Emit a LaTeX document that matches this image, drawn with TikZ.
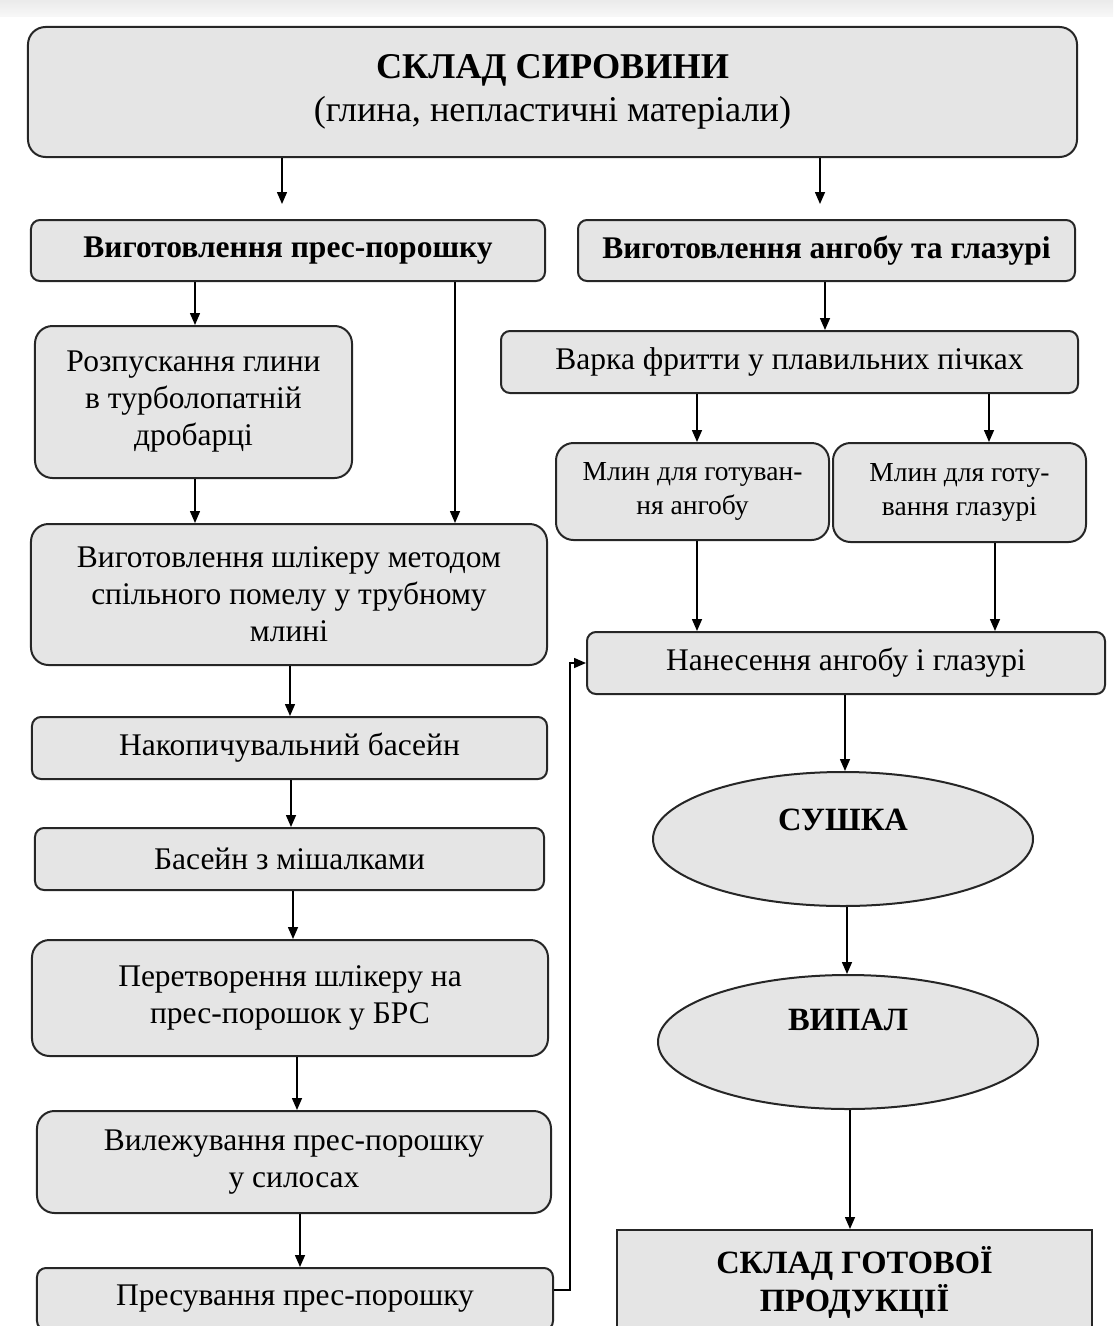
\documentclass[tikz,border=0pt]{standalone}
\usepackage{fontspec}
\setmainfont{Liberation Serif}
\usetikzlibrary{shapes.geometric,arrows.meta}

\begin{document}
\begin{tikzpicture}[x=0.4pt,y=-0.4pt,
  stage/.style={draw=black!85,line width=0.8pt,fill=black!10,rounded corners=3.6pt,
    align=center,inner sep=1pt,font=\fontsize{12.6}{14.8}\selectfont},
  tall/.style={stage,rounded corners=7pt},
  mill/.style={tall,font=\fontsize{11}{13.6}\selectfont},
  oval/.style={ellipse,draw=black!85,line width=0.8pt,fill=black!10,
    minimum width=152pt,minimum height=53.6pt},
  caps/.style={font=\fontsize{13}{15.2}\selectfont\bfseries,align=center},
  flow/.style={-{Triangle[length=4.8pt,width=4pt]},line width=0.6pt}]
  \useasboundingbox (0,0) rectangle (1113,1326);
  \clip (0,0) rectangle (1113,1326);
  \shade[top color=black!8,bottom color=black!3] (0,0) rectangle (1113,16);

  % left column
  \node[tall,minimum width=419.6pt,minimum height=52pt,font=\fontsize{14.5}{17.2}\selectfont]
    (store) at (552.5,92) {\textbf{СКЛАД СИРОВИНИ}\\(глина, непластичні матеріали)};
  \node[stage,minimum width=205.6pt,minimum height=24.4pt] (powder) at (288,250.5)
    {\textbf{Виготовлення прес-порошку}};
  \node[tall,minimum width=126.8pt,minimum height=60.8pt] (dissolve) at (193.5,402)
    {Розпускання глини\\в турболопатній\\дробарці};
  \node[tall,minimum width=206.4pt,minimum height=56.4pt] (slip) at (289,594.5)
    {Виготовлення шлікеру методом\\спільного помелу у трубному\\млині};
  \node[stage,minimum width=206pt,minimum height=24.8pt] (tank) at (289.5,748)
    {Накопичувальний басейн};
  \node[stage,minimum width=203.6pt,minimum height=24.8pt] (mixer) at (289.5,859)
    {Басейн з мішалками};
  \node[tall,minimum width=206.4pt,minimum height=46.4pt] (spray) at (290,998)
    {Перетворення шлікеру на\\прес-порошок у БРС};
  \node[tall,minimum width=205.6pt,minimum height=40.8pt] (silo) at (294,1162)
    {Вилежування прес-порошку\\у силосах};
  \node[stage,minimum width=206.4pt,minimum height=24.8pt] (press) at (295,1299)
    {Пресування прес-порошку};

  % right column
  \node[stage,minimum width=198.8pt,minimum height=24.4pt] (engobe) at (826.5,250.5)
    {\textbf{Виготовлення ангобу та глазурі}};
  \node[stage,minimum width=230.8pt,minimum height=24.8pt] (frit) at (789.5,362)
    {Варка фритти у плавильних пічках};
  \node[mill,minimum width=109.2pt,minimum height=38.8pt] (millA) at (692.5,491.5)
    {Млин для готуван-\\ня ангобу};
  \node[mill,minimum width=101.2pt,minimum height=39.6pt] (millG) at (959.5,492.5)
    {Млин для готу-\\вання глазурі};
  \node[stage,minimum width=207.2pt,minimum height=24.8pt] (coat) at (846,663)
    {Нанесення ангобу і глазурі};
  \node[oval] (dry) at (843,839) {};
  \node[caps] (dryT) at (843,820) {СУШКА};
  \node[oval] (fire) at (848,1042) {};
  \node[caps] (fireT) at (848,1020) {ВИПАЛ};
  \node[draw=black!85,line width=0.8pt,fill=black!10,caps,minimum width=190pt,
    minimum height=41.6pt] (goods) at (854.5,1282) {СКЛАД ГОТОВОЇ\\ПРОДУКЦІЇ};

  % connectors
  \draw[flow,shorten >=6pt] (store.south -| 282,0) -- (powder.north -| 282,0);
  \draw[flow,shorten >=6pt] (store.south -| 820,0) -- (engobe.north -| 820,0);
  \draw[flow] (powder.south -| 195,0) -- (dissolve.north -| 195,0);
  \draw[flow] (powder.south -| 455,0) -- (slip.north -| 455,0);
  \draw[flow] (dissolve.south -| 195,0) -- (slip.north -| 195,0);
  \draw[flow] (slip.south -| 290,0) -- (tank.north -| 290,0);
  \draw[flow] (tank.south -| 291,0) -- (mixer.north -| 291,0);
  \draw[flow] (mixer.south -| 293,0) -- (spray.north -| 293,0);
  \draw[flow] (spray.south -| 297,0) -- (silo.north -| 297,0);
  \draw[flow] (silo.south -| 300,0) -- (press.north -| 300,0);
  \draw[flow] (engobe.south -| 825,0) -- (frit.north -| 825,0);
  \draw[flow] (frit.south -| 697,0) -- (millA.north -| 697,0);
  \draw[flow] (frit.south -| 989,0) -- (millG.north -| 989,0);
  \draw[flow] (millA.south -| 697,0) -- (coat.north -| 697,0);
  \draw[flow] (millG.south -| 995,0) -- (coat.north -| 995,0);
  \draw[flow] (coat.south -| 845,0) -- (dry.north -| 845,0);
  \draw[flow] (dry.south -| 847,0) -- (fire.north -| 847,0);
  \draw[flow] (fire.south -| 850,0) -- (goods.north -| 850,0);
  \draw[flow] (press.east |- 0,1290) -- (570,1290) |- (coat.west);
\end{tikzpicture}
\end{document}
